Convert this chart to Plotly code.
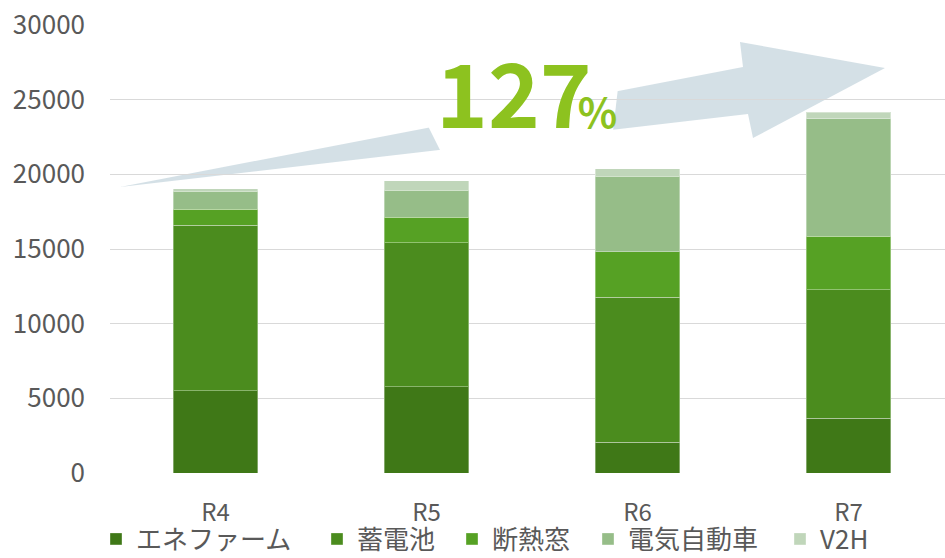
import plotly.graph_objects as go

# ---- data ----
categories = ["R4", "R5", "R6", "R7"]
enefarm = [5500, 5760, 2070, 3680]
battery = [11100, 9670, 9710, 8590]
window = [1050, 1700, 3050, 3570]
ev = [1230, 1790, 5050, 7890]
v2h = [150, 660, 510, 430]
series_names = ["エネファーム", "蓄電池", "断熱窓", "電気自動車", "V2H"]
series_values = [enefarm, battery, window, ev, v2h]
series_colors = ["#3F7817", "#4B8C1E", "#56A124", "#96BD88", "#C0D6BA"]
y_ticks = [0, 5000, 10000, 15000, 20000, 25000, 30000]
growth_label = "127"

W, H = 945, 558
ML, MR, MT, MB = 110, 0, 25, 85
PW, PH = W - ML - MR, H - MT - MB

def px(x):
    return (x - ML) / PW

def py(y):
    return (H - MB - y) / PH

def path(points):
    return "M" + " L".join(f"{px(a):.5f},{py(b):.5f}" for a, b in points) + " Z"

FONT = "Noto Sans CJK JP"
GRAY = "#595959"

fig = go.Figure()
legend_ids = ["legend", "legend2", "legend3", "legend4", "legend5"]
for name, vals, col, lid in zip(series_names, series_values, series_colors, legend_ids):
    fig.add_trace(go.Bar(
        x=categories, y=vals, name=name, showlegend=True,
        marker=dict(color=col, line=dict(color="rgba(255,255,255,0.35)", width=1)),
        legend=lid,
    ))

# legend square left edges in pixels (reference)
sq_left = [110, 331, 466, 602, 794]
legend_cfg = {}
for lid, sx in zip(legend_ids, sq_left):
    legend_cfg[lid] = dict(
        x=px(sx - 14), xanchor="left", y=py(539), yanchor="middle",
        orientation="h", bgcolor="rgba(0,0,0,0)", borderwidth=0,
        font=dict(family=FONT, size=26, color=GRAY),
        itemclick=False, itemdoubleclick=False,
    )

arrow = [(120, 187), (743, 67), (740, 42), (885, 68), (753, 138), (748, 114)]
mask = [(424, 98), (428, 126), (440, 150), (462, 176), (580, 178),
        (613, 131), (618, 88), (617, 55), (430, 55)]

label_html = ("<b>" + growth_label[:-1]
              + "<span style='letter-spacing:-14px'>" + growth_label[-1] + "</span>"
              + "<span style='font-size:41px'>%</span></b>")

fig.update_layout(
    width=W, height=H,
    margin=dict(l=ML, r=MR, t=MT, b=MB, pad=0, autoexpand=False),
    paper_bgcolor="white", plot_bgcolor="white",
    barmode="stack", bargap=0.6, showlegend=True,
    font=dict(family=FONT, color=GRAY),
    xaxis=dict(
        range=[-0.5, (W - ML) / 211 - 0.5],
        showgrid=False, showline=False, zeroline=False,
        tickfont=dict(family=FONT, size=24, color=GRAY),
        ticks="", ticklabelstandoff=23, automargin=False,
    ),
    yaxis=dict(
        range=[0, 30000], tickvals=y_ticks, tickformat="d",
        showgrid=True, gridcolor="#D9D9D9", gridwidth=1.3,
        zeroline=False, showline=False,
        tickfont=dict(family=FONT, size=26, color=GRAY),
        ticks="", ticklabelstandoff=24, automargin=False,
    ),
    shapes=[
        dict(type="path", path=path(arrow), xref="paper", yref="paper",
             fillcolor="rgba(176,198,210,0.55)", line=dict(width=0), layer="between"),
        dict(type="path", path=path(mask), xref="paper", yref="paper",
             fillcolor="white", line=dict(width=0), layer="between"),
    ],
    annotations=[
        dict(text=label_html,
             xref="paper", yref="paper",
             x=px(434), y=py(155), xanchor="left", yanchor="bottom", showarrow=False,
             font=dict(family=FONT, size=88, color="#8DC21F")),
    ],
    **legend_cfg,
)

fig.write_html("out.html")
